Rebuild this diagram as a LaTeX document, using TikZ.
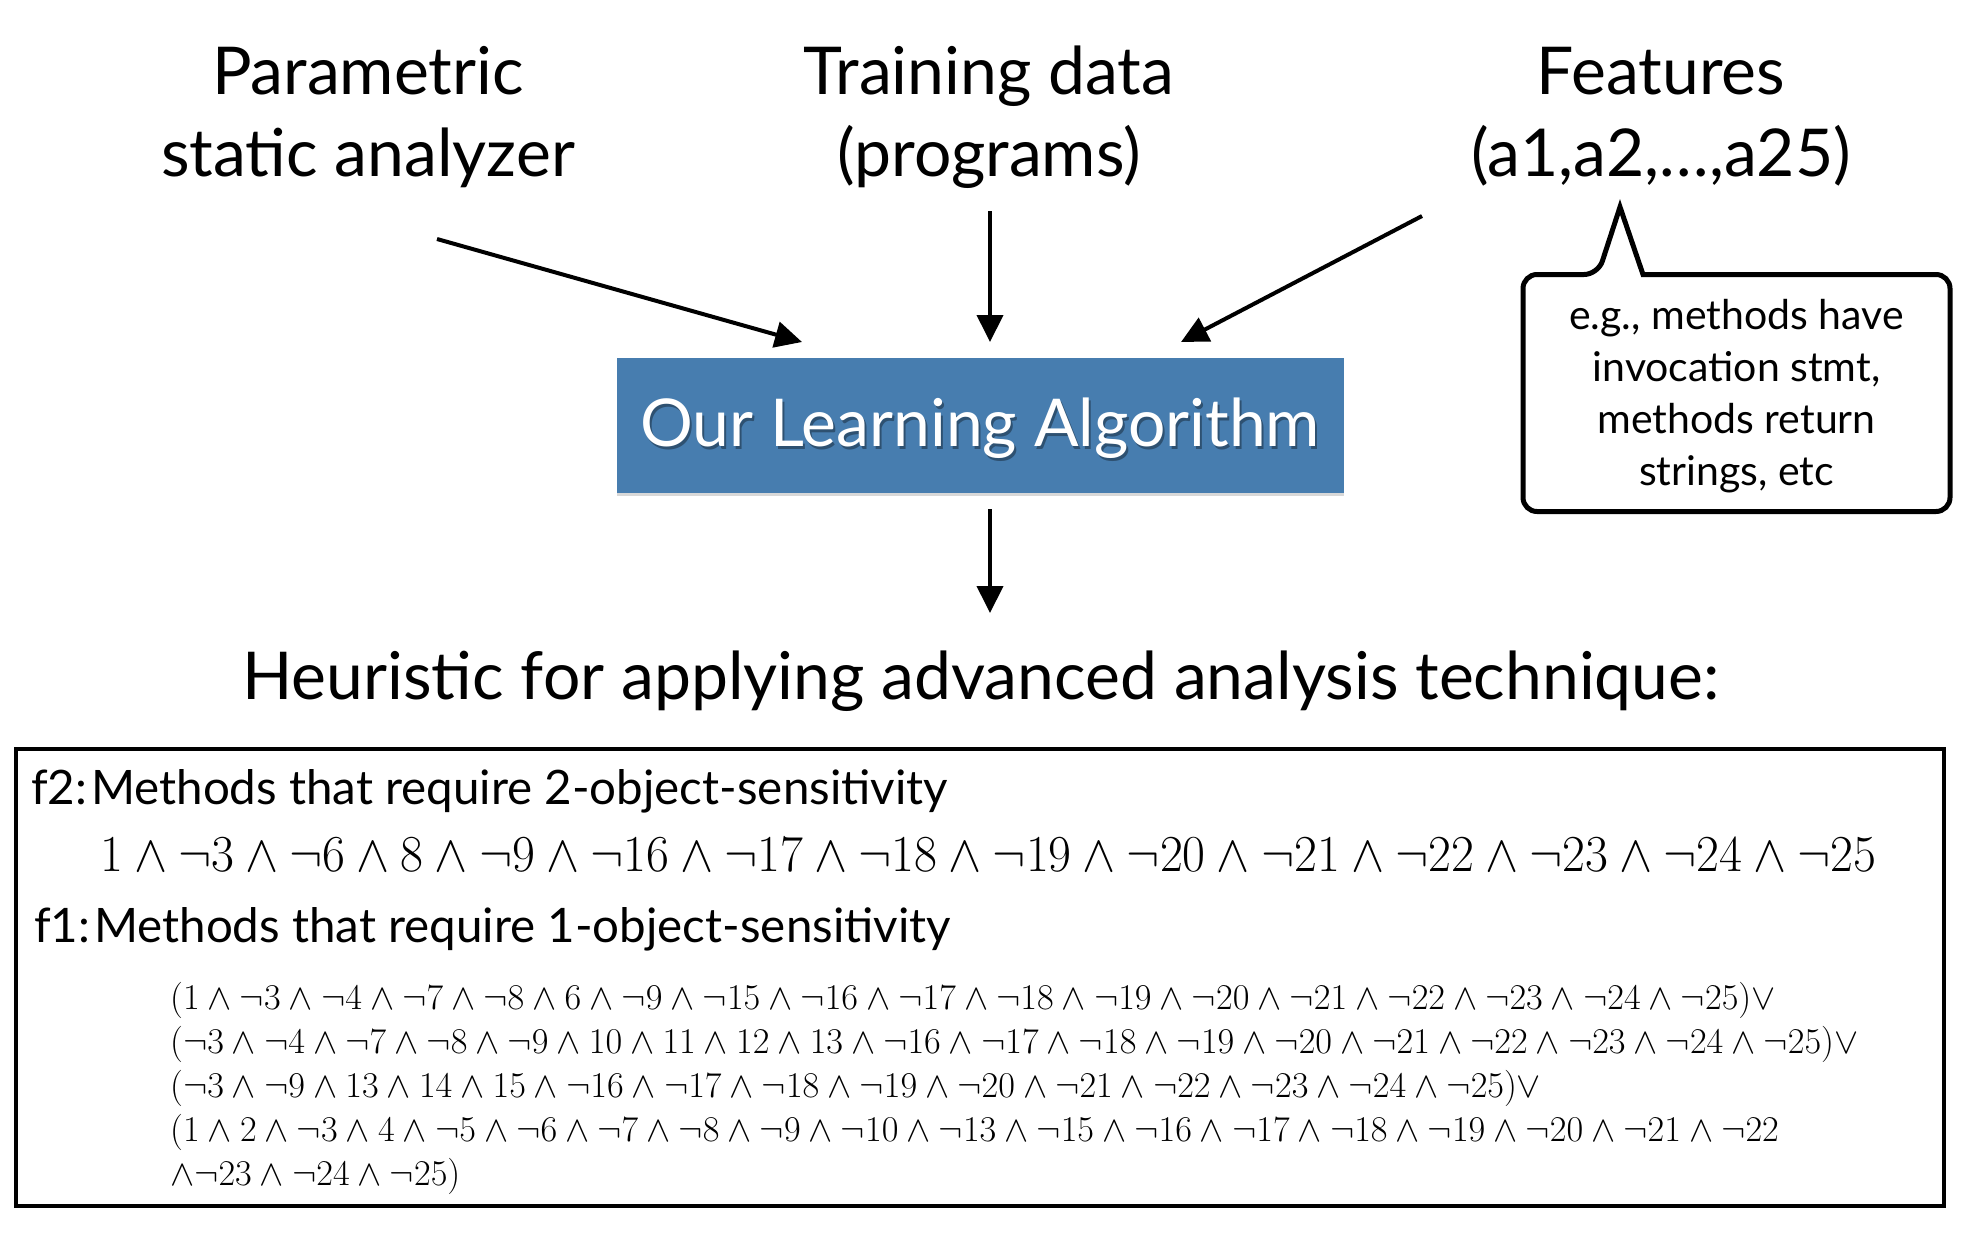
\documentclass[tikz,border=0pt]{standalone}
\usepackage{fontspec}
\newfontfamily\gill{Lato}
\usetikzlibrary{arrows.meta,shadows,calc}
\definecolor{algoblue}{RGB}{71,125,175}
% formulas are set at a modest size and then magnified
\newcommand{\bigformula}[1]{\scalebox{2.40}[2.5]{\fontsize{20}{24}\selectfont$#1$}}
\newcommand{\smallformula}[1]{\scalebox{1.75}{\fontsize{20}{24}\selectfont$#1$}}
\begin{document}
\begin{tikzpicture}[x=1pt,y=-1pt,
  toplbl/.style={font=\gill\fontsize{66}{80}\selectfont, inner sep=0, anchor=base},
  arr/.style={line width=4pt, -{Triangle[length=27pt,width=26pt]}},
  small/.style={inner sep=0, anchor=base west},
  fline/.style={font=\gill\fontsize{47.5}{56}\selectfont, inner sep=0, anchor=base west},
]
\useasboundingbox (0,0) rectangle (1970,1232);
\fill[white] (0,0) rectangle (1970,1232);

% input labels
\node[toplbl] (pa1) at (368,94) {Parametric};
\node[toplbl] (pa2) at (368,176) {static analyzer};
\node[toplbl] (tr1) at (989,94) {Training data};
\node[toplbl] (tr2) at (989,176) {(programs)};
\node[toplbl] (fe1) at (1661,94) {Features};
\node[toplbl] (fe2) at (1661,176) {(a1,a2,\ldots,a25)};

% the learning algorithm
\node[fill=algoblue, minimum width=727, minimum height=135, inner sep=0, outer sep=0,
      drop shadow={shadow xshift=0pt, shadow yshift=-3pt, opacity=0.3}] (algo) at (980,425.5) {};
\node[font=\gill\fontsize{66}{80}\selectfont, text=black, opacity=0.35] at (982,431) {Our Learning Algorithm};
\node[font=\gill\fontsize{66}{80}\selectfont, text=white] (algotxt) at (980,428) {Our Learning Algorithm};

% arrows into and out of the algorithm
\coordinate (s1) at (437,239);
\coordinate (e1) at (802,342);
\coordinate (s2) at (990,211);
\coordinate (e2) at (990,342);
\coordinate (s3) at (1422,216);
\coordinate (e3) at (1181,342);
\coordinate (s4) at (990,509);
\coordinate (e4) at (990,613);
\draw[arr] (s1) -- (e1);
\draw[arr] (s2) -- (e2);
\draw[arr] (s3) -- (e3);
\draw[arr] (s4) -- (e4);

% speech bubble explaining the features
\node[minimum width=427, minimum height=237, inner sep=0, outer sep=0, align=center,
      font=\gill\fontsize{41}{52}\selectfont] (bub) at (1736.5,396)
  {e.g., methods have\\invocation stmt,\\methods return\\strings, etc};
\coordinate (tip) at (1620,207);
\draw[line width=5pt, line join=miter]
  ($(bub.north west)+(75,-3)$) -- (tip) -- ($(bub.north west)+(120,-3)$)
  [rounded corners=14] -- ($(bub.north east)+(0,-3)$) -- ($(bub.south east)+(0,-3)$)
  -- ($(bub.south west)+(0,-3)$) -- ($(bub.north west)+(0,-3)$) -- cycle;

% result
\node[toplbl] (heur) at (981,699) {Heuristic for applying advanced analysis technique:};

\node[draw, line width=4pt, minimum width=1928, minimum height=457, inner sep=0] (res) at (980,977.5) {};

\node[fline] (f2) at (31,804) {f2:\kern0.08em Methods that require 2-object-sensitivity};
\node[small] (f2f) at (100,871)
  {\bigformula{1 \land \neg 3 \land \neg 6 \land 8 \land \neg 9 \land \neg 16 \land \neg 17 \land \neg 18 \land \neg 19 \land \neg 20 \land \neg 21 \land \neg 22 \land \neg 23 \land \neg 24 \land \neg 25}};
\node[fline] (f1) at (34,942) {f1:\kern0.08em Methods that require 1-object-sensitivity};
\node[small] (c1) at (170,1009)
  {\smallformula{(1 \land \neg 3 \land \neg 4 \land \neg 7 \land \neg 8 \land 6 \land \neg 9 \land \neg 15 \land \neg 16 \land \neg 17 \land \neg 18 \land \neg 19 \land \neg 20 \land \neg 21 \land \neg 22 \land \neg 23 \land \neg 24 \land \neg 25)\lor}};
\node[small] (c2) at (170,1053)
  {\smallformula{(\neg 3 \land \neg 4 \land \neg 7 \land \neg 8 \land \neg 9 \land 10 \land 11 \land 12 \land 13 \land \neg 16 \land \neg 17 \land \neg 18 \land \neg 19 \land \neg 20 \land \neg 21 \land \neg 22 \land \neg 23 \land \neg 24 \land \neg 25)\lor}};
\node[small] (c3) at (170,1097)
  {\smallformula{(\neg 3 \land \neg 9 \land 13 \land 14 \land 15 \land \neg 16 \land \neg 17 \land \neg 18 \land \neg 19 \land \neg 20 \land \neg 21 \land \neg 22 \land \neg 23 \land \neg 24 \land \neg 25)\lor}};
\node[small] (c4) at (170,1141)
  {\smallformula{(1 \land 2 \land \neg 3 \land 4 \land \neg 5 \land \neg 6 \land \neg 7 \land \neg 8 \land \neg 9 \land \neg 10 \land \neg 13 \land \neg 15 \land \neg 16 \land \neg 17 \land \neg 18 \land \neg 19 \land \neg 20 \land \neg 21 \land \neg 22}};
\node[small] (c5) at (170,1185)
  {\smallformula{\land\neg 23 \land \neg 24 \land \neg 25)}};
\end{tikzpicture}
\end{document}
